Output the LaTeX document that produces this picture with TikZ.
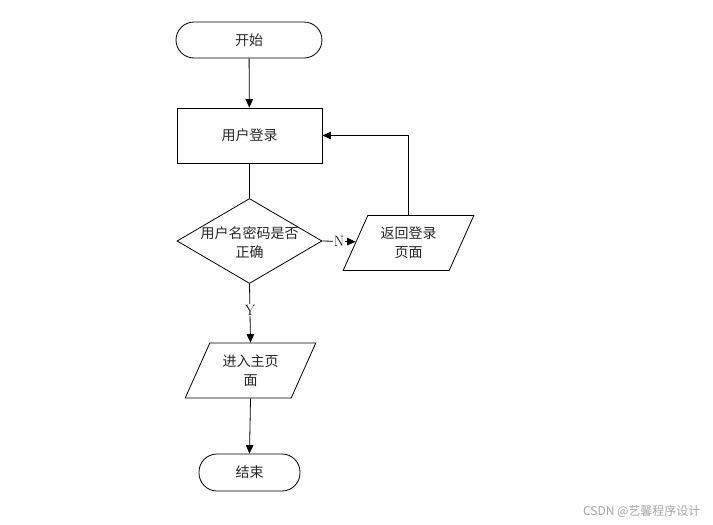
\documentclass[tikz,border=0pt]{standalone}
\usepackage{fontspec}
\newfontfamily\cjk{Noto Sans CJK SC}
\usetikzlibrary{shapes.geometric,arrows.meta}
\begin{document}
\begin{tikzpicture}[x=1pt,y=-1pt,
  every node/.style={font=\cjk\fontsize{14}{19}\selectfont, text=black!85, align=center},
  term/.style={draw=black, line width=0.8pt, rectangle, rounded corners=18pt, inner sep=0pt},
  proc/.style={draw=black, line width=0.8pt, rectangle, inner sep=0pt},
  deci/.style={draw=black, line width=0.8pt, diamond, inner sep=0pt, minimum width=145pt, minimum height=85pt},
  io/.style={draw=black, line width=0.8pt, trapezium, trapezium left angle=62, trapezium right angle=118, trapezium stretches=true, minimum width=131pt, minimum height=55pt, inner sep=0pt},
  conn/.style={draw=black, line width=0.8pt},
  arr/.style={conn, -{Triangle[length=8.5pt,width=7.5pt]}},
  lat/.style={font=\fontsize{15}{17}\selectfont, text=black, fill=white, inner sep=1pt}
]
\useasboundingbox (0,0) rectangle (713,525);
\node[term, minimum width=146pt, minimum height=36pt] (start) at (249,40) {开始};
\node[proc, minimum width=145pt, minimum height=55pt] (login) at (249.5,135.5) {用户登录};
\node[deci] (check) at (249.5,241) {};
\node (checkt) at (249.5,242.5) {用户名密码是否\\正确};
\node[io] (back) at (408.5,243) {返回登录\\页面};
\node[io] (main) at (250.5,370.5) {进入主页\\面};
\node[term, minimum width=101pt, minimum height=37pt] (end) at (249.5,472.5) {结束};
\node[font=\cjk\fontsize{12}{14}\selectfont, text=black!35, anchor=east] (wm) at (704,511) {CSDN @艺馨程序设计};

\draw[arr] (start) -- (login);
\draw[conn] (login) -- (check);
\draw[arr] (check.east) -- node[lat] {N} (back);
\draw[arr] (back.north) |- (login.east);
\draw[arr] (check.south) -- node[lat, pos=0.45] {Y} (main.north);
\draw[arr] (main.south) -- (end.north);
\end{tikzpicture}
\end{document}
